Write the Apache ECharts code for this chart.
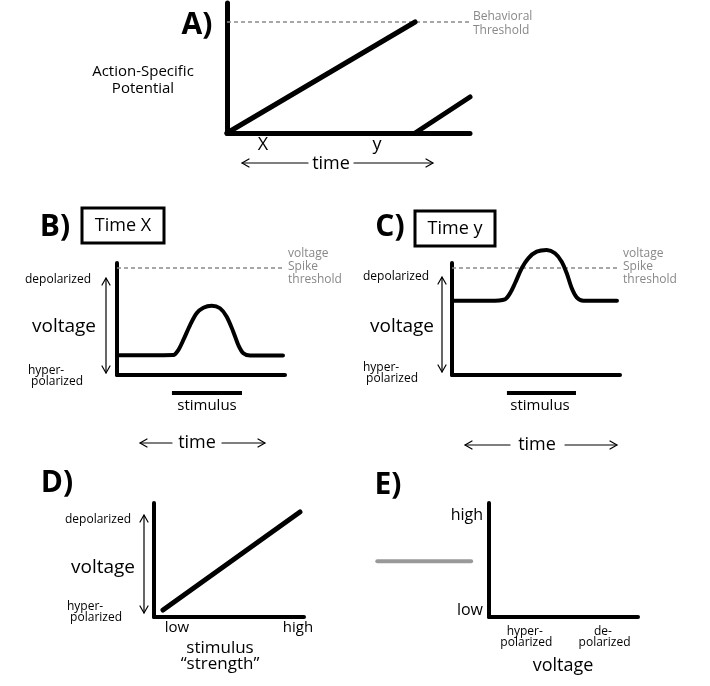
<!DOCTYPE html>
<html>
<head>
<meta charset="utf-8">
<script src="https://cdn.jsdelivr.net/npm/echarts@6/dist/echarts.min.js"></script>
<style>html,body{margin:0;padding:0;background:#fff}#c{width:710px;height:686px}</style>
</head>
<body>
<div id="c"></div>
<script>
// ---------- DATA ----------
// Panel A: action-specific potential over time
var aRiseX = [[0, 0], [77.4, 85.4]];
var aRiseY = [[77.4, 0], [100, 27.7]];
var aThreshold = 85.4;
var aTickValues = [14.8, 61.7];
var aTickLabels = ['X', 'y'];

// Panel B: voltage over time at time X
var bCurve = [[0,17.6],[33.5,17.9],[36.5,22.3],[39.5,31.3],[43.5,44.6],[47.4,55.1],[51.4,60.1],[56.4,61.9],[61.3,59.6],[65.3,52.1],[69.2,38.7],[72.2,26.8],[75.2,19.4],[79.2,17.4],[98.8,17.4]];
var bThreshold = 95.5;
var bStimulus = [[32.7, -16], [74.4, -16]];

// Panel C: voltage over time at time y
var cCurve = [[0,66.3],[22.6,66.3],[31.5,67.6],[34.5,72.9],[37.5,81.9],[41.5,95.3],[45.4,104.2],[50.4,110.1],[56.4,111.6],[61.3,108.7],[65.3,101.2],[68.3,90.8],[71.3,77.4],[74.2,69.4],[78.2,66.3],[98.2,66.3]];
var cThreshold = 95.5;
var cStimulus = [[32.7, -16], [73.8, -16]];

// Panel D: voltage vs stimulus strength
var dLine = [[6, 6.1], [97.3, 92.1]];
var dTickValues = [15.3, 96];
var dTickLabels = ['low', 'high'];

// Panel E: empty axes (high/low vs voltage) with grey bar
var eBar = [[-75, 49], [-12, 49]];
var eYTickValues = [6, 89.5];
var eYTickLabels = ['low', 'high'];
var eXTickValues = [24, 76.5];
var eXTickLabels = ['hyper-\n polarized', 'de-\n polarized'];

// ---------- CHART ----------
var FONT = '"Open Sans", "DejaVu Sans", sans-serif';
var chart = echarts.init(document.getElementById('c'), null, {renderer: 'canvas'});

var grids = [
  {left: 227, top: 3, width: 243, height: 130},
  {left: 117, top: 263, width: 168, height: 112},
  {left: 452, top: 263, width: 168, height: 112},
  {left: 154, top: 503, width: 150, height: 114},
  {left: 489, top: 503, width: 149, height: 114},
  // hidden extension of panel E to the left (same scale), for the grey bar
  {left: 377, top: 503, width: 261, height: 114}
];

function mkAxis(i, w, extra) {
  var ax = {
    type: 'value', gridIndex: i, min: 0, max: 100,
    splitLine: {show: false}, axisTick: {show: false},
    axisLabel: {show: false},
    axisLine: {show: true, onZero: false, lineStyle: {color: '#000', width: w}}
  };
  return Object.assign(ax, extra || {});
}
function tickLabels(values, labels, size, margin) {
  return {
    show: true, customValues: values, margin: margin, color: '#000',
    fontFamily: FONT, fontSize: size, lineHeight: 11,
    formatter: function (v) {
      for (var k = 0; k < values.length; k++) if (Math.abs(values[k] - v) < 1e-6) return labels[k];
      return '';
    }
  };
}

var xAxes = [
  mkAxis(0, 5, {axisLabel: tickLabels(aTickValues, aTickLabels, 18, 6)}),
  mkAxis(1, 4),
  mkAxis(2, 4),
  mkAxis(3, 4, {axisLabel: tickLabels(dTickValues, dTickLabels, 15, 5)}),
  mkAxis(4, 4, {axisLabel: tickLabels(eXTickValues, eXTickLabels, 12, 9)}),
  mkAxis(5, 0, {min: -75.2, max: 100, axisLine: {show: false}})
];
var yAxes = [
  mkAxis(0, 5), mkAxis(1, 4), mkAxis(2, 4), mkAxis(3, 4),
  mkAxis(4, 4, {axisLabel: tickLabels(eYTickValues, eYTickLabels, 16, 6)}),
  mkAxis(5, 0, {axisLine: {show: false}})
];

function lineSeries(i, data, opts) {
  return Object.assign({
    type: 'line', xAxisIndex: i, yAxisIndex: i, data: data,
    showSymbol: false, symbol: 'none', clip: false, animation: false,
    lineStyle: {color: '#000', width: 5, cap: 'round', join: 'round'}
  }, opts || {});
}
function dashed(i, v) {
  return lineSeries(i, [[0, v], [100, v]], {lineStyle: {color: '#8a8a8a', width: 1.5, type: [4, 3]}});
}

var series = [
  dashed(0, aThreshold),
  lineSeries(0, aRiseX),
  lineSeries(0, aRiseY),
  dashed(1, bThreshold),
  lineSeries(1, bCurve, {smooth: 0.3, lineStyle: {color: '#000', width: 4, cap: 'round'}}),
  lineSeries(1, bStimulus, {lineStyle: {color: '#000', width: 4}}),
  dashed(2, cThreshold),
  lineSeries(2, cCurve, {smooth: 0.3, lineStyle: {color: '#000', width: 4, cap: 'round'}}),
  lineSeries(2, cStimulus, {lineStyle: {color: '#000', width: 4}}),
  lineSeries(3, dLine, {lineStyle: {color: '#000', width: 5, cap: 'round'}}),
  lineSeries(5, eBar, {lineStyle: {color: '#999', width: 4, cap: 'round'}})
];

// ---------- ANNOTATIONS ----------
var G = [];
function txt(s, x, y, size, opts) {
  opts = opts || {};
  G.push({
    type: 'text', silent: true,
    style: {
      text: s, x: x, y: y, fill: opts.fill || '#000',
      font: (opts.weight || 'normal') + ' ' + size + 'px ' + FONT,
      align: opts.align || 'center', verticalAlign: 'middle',
      textAlign: opts.align || 'center', textVerticalAlign: 'middle',
      lineHeight: opts.lh || Math.round(size * 1.05)
    }
  });
}
function pl(points, w) {
  G.push({type: 'polyline', silent: true, shape: {points: points},
    style: {stroke: '#000', lineWidth: w || 1.2, fill: null, lineCap: 'round', lineJoin: 'round'}});
}
function arrowH(x1, x2, y, g1, g2) {
  pl([[x1, y], [g1, y]]); pl([[g2, y], [x2, y]]);
  pl([[x1 + 7, y - 4], [x1, y], [x1 + 7, y + 4]]);
  pl([[x2 - 7, y - 4], [x2, y], [x2 - 7, y + 4]]);
}
function arrowV(x, y1, y2) {
  pl([[x, y1], [x, y2]]);
  pl([[x - 4, y1 + 7], [x, y1], [x + 4, y1 + 7]]);
  pl([[x - 4, y2 - 7], [x, y2], [x + 4, y2 - 7]]);
}
function box(x, y, w, h) {
  G.push({type: 'rect', silent: true, shape: {x: x, y: y, width: w, height: h},
    style: {fill: null, stroke: '#000', lineWidth: 3}});
}

// A
txt('A)', 197, 25, 30, {weight: 'bold'});
txt('Action-Specific\nPotential', 143, 80, 15, {lh: 17});
txt('Behavioral\nThreshold', 473, 24, 12, {align: 'left', fill: '#888', lh: 14});
arrowH(242, 433, 163, 308, 354);
txt('time', 331, 164, 18);

// B
txt('B)', 55, 227, 30, {weight: 'bold'});
box(82, 208, 82, 35);
txt('Time X', 123, 226, 18);
txt('voltage\nSpike\nthreshold', 288, 267, 12, {align: 'left', fill: '#888', lh: 13});
txt('depolarized', 58, 280, 12);
arrowV(106, 278, 373);
txt('voltage', 64, 327, 19);
txt('hyper-\n polarized', 28, 376, 12, {align: 'left', lh: 11});
txt('stimulus', 207, 406, 15);
arrowH(140, 265, 443, 172, 222);
txt('time', 197, 443, 18);

// C
txt('C)', 390, 227, 30, {weight: 'bold'});
box(415, 211, 80, 35);
txt('Time y', 455, 229, 18);
txt('voltage\nSpike\nthreshold', 623, 267, 12, {align: 'left', fill: '#888', lh: 13});
txt('depolarized', 396, 277, 12);
arrowV(442, 277, 372);
txt('voltage', 402, 327, 19);
txt('hyper-\n polarized', 363, 373, 12, {align: 'left', lh: 11});
txt('stimulus', 540, 406, 15);
arrowH(465, 617, 445, 510, 565);
txt('time', 537, 445, 18);

// D
txt('D)', 57, 483, 30, {weight: 'bold'});
txt('depolarized', 98, 520, 12);
arrowV(144, 515, 613);
txt('voltage', 103, 568, 19);
txt('hyper-\n polarized', 67, 612, 12, {align: 'left', lh: 11});
txt('stimulus\n\u201Cstrength\u201D', 220, 656, 17, {lh: 16});

// E
txt('E)', 388, 485, 30, {weight: 'bold'});
txt('voltage', 563, 666, 18);

chart.setOption({
  animation: false,
  backgroundColor: '#fff',
  grid: grids,
  xAxis: xAxes,
  yAxis: yAxes,
  series: series,
  graphic: {elements: G}
});
</script>
</body>
</html>
